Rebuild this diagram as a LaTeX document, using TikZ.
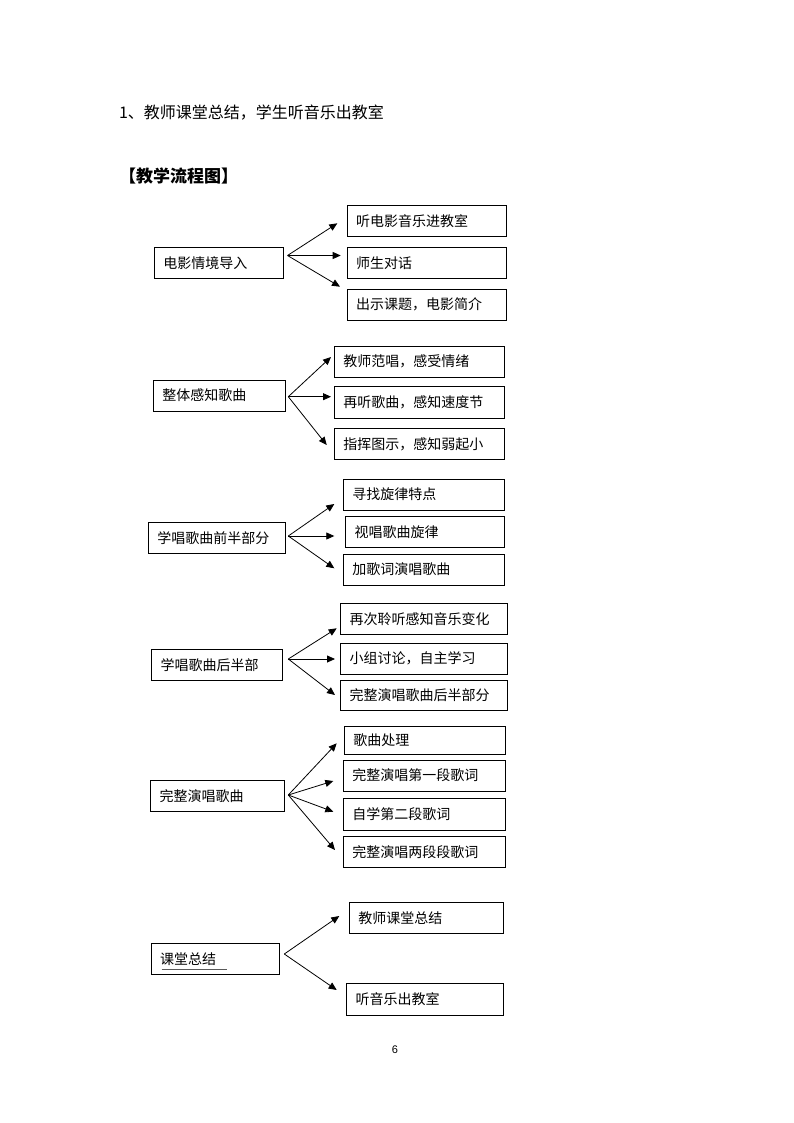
\documentclass[tikz,border=0pt]{standalone}
\usepackage{fontspec}
\newfontfamily\cjk{Noto Sans CJK SC}
\newfontfamily\pgnum{Liberation Sans}
\usetikzlibrary{arrows.meta,calc}
\tikzset{
  box/.style={draw=black, line width=0.9pt, inner xsep=9pt, inner ysep=0pt, align=left,
    font=\cjk\fontsize{14}{16}\selectfont},
  arr/.style={line width=0.8pt, -{Triangle[length=8pt,width=7pt]}},
}
\newcommand\flowbox[6]{%
  \pgfmathsetmacro\fbw{#4-#2-18}%
  \pgfmathsetmacro\fbh{#5-#3}%
  \node[box, text width=\fbw pt, minimum height=\fbh pt] (#1) at ({(#2+#4)/2},{(#3+#5)/2}) {#6};}
\begin{document}
\begin{tikzpicture}[x=1pt,y=-1pt]
\fill[white] (0,0) rectangle (794,1123);
\useasboundingbox (0,0) rectangle (794,1123);

\node[font=\cjk\fontsize{16}{18}\selectfont, inner sep=0pt] (head) at (251.5,113) {1、教师课堂总结，学生听音乐出教室};
\node[font=\cjk\bfseries\fontsize{17}{19}\selectfont, inner sep=0pt] (title) at (178.5,175.7) {【教学流程图】};

% group 1
\flowbox{a1}{154.3}{247.3}{283.3}{278.3}{电影情境导入}
\flowbox{b11}{347}{205.3}{506.7}{236}{听电影音乐进教室}
\flowbox{b12}{347}{247.3}{506.7}{278.3}{师生对话}
\flowbox{b13}{347}{289.3}{506.7}{320}{出示课题，电影简介}
\coordinate (o1) at (287.5,255.5);
\coordinate (t11) at (337.3,223.3);
\coordinate (t12) at (340.7,255.5);
\coordinate (t13) at (340,286.7);
\draw[arr] (o1) -- (t11);
\draw[arr] (o1) -- (t12);
\draw[arr] (o1) -- (t13);

% group 2
\flowbox{a2}{153.3}{380}{285}{411}{整体感知歌曲}
\flowbox{b21}{334.3}{346}{504.3}{377.3}{教师范唱，感受情绪}
\flowbox{b22}{334.3}{386.7}{504.3}{418.3}{再听歌曲，感知速度节}
\flowbox{b23}{334.3}{428.7}{504.3}{459.3}{指挥图示，感知弱起小}
\coordinate (o2) at (288.3,396.7);
\coordinate (t21) at (331,357);
\coordinate (t22) at (331,396.7);
\coordinate (t23) at (326.7,445);
\draw[arr] (o2) -- (t21);
\draw[arr] (o2) -- (t22);
\draw[arr] (o2) -- (t23);

% group 3
\flowbox{a3}{148.3}{522.7}{285.5}{553.3}{学唱歌曲前半部分}
\flowbox{b31}{343.3}{479.3}{504.3}{510}{寻找旋律特点}
\flowbox{b32}{345.7}{516.7}{504.3}{547.3}{视唱歌曲旋律}
\flowbox{b33}{343.3}{554}{504.3}{585}{加歌词演唱歌曲}
\coordinate (o3) at (288.3,536);
\coordinate (t31) at (334.3,504);
\coordinate (t32) at (334.3,536);
\coordinate (t33) at (334.3,568.3);
\draw[arr] (o3) -- (t31);
\draw[arr] (o3) -- (t32);
\draw[arr] (o3) -- (t33);

% group 4
\flowbox{a4}{151.7}{649.3}{282.3}{680}{学唱歌曲后半部}
\flowbox{b41}{340.5}{603.3}{507.5}{634.3}{再次聆听感知音乐变化}
\flowbox{b42}{340.5}{643.3}{507.5}{674}{小组讨论，自主学习}
\flowbox{b43}{340.5}{680.5}{507.5}{710.7}{完整演唱歌曲后半部分}
\coordinate (o4) at (288.3,659);
\coordinate (t41) at (336.7,628.3);
\coordinate (t42) at (335,659);
\coordinate (t43) at (335,695);
\draw[arr] (o4) -- (t41);
\draw[arr] (o4) -- (t42);
\draw[arr] (o4) -- (t43);

% group 5
\flowbox{a5}{150.7}{780.7}{284.3}{811.7}{完整演唱歌曲}
\flowbox{b51}{344.3}{726}{505.5}{754.3}{歌曲处理}
\flowbox{b52}{343.3}{760}{505.5}{791}{完整演唱第一段歌词}
\flowbox{b53}{343.3}{798.3}{505.5}{830}{自学第二段歌词}
\flowbox{b54}{343.3}{836}{505.5}{867.3}{完整演唱两段段歌词}
\coordinate (o5) at (288.3,795);
\coordinate (t51) at (336.7,743.3);
\coordinate (t52) at (333.3,781);
\coordinate (t53) at (333.3,811.7);
\coordinate (t54) at (335,850);
\draw[arr] (o5) -- (t51);
\draw[arr] (o5) -- (t52);
\draw[arr] (o5) -- (t53);
\draw[arr] (o5) -- (t54);

% group 6
\flowbox{a6}{151}{943.3}{279.3}{974.3}{课堂总结}
\draw[line width=0.8pt, black!65] (161.7,969.3) -- (227.3,969.3);
\flowbox{b61}{349.3}{902.7}{503.3}{933.3}{教师课堂总结}
\flowbox{b62}{346.7}{983.3}{503.3}{1015}{听音乐出教室}
\coordinate (o6) at (284.3,954);
\coordinate (t61) at (339.3,916);
\coordinate (t62) at (336.7,990);
\draw[arr] (o6) -- (t61);
\draw[arr] (o6) -- (t62);

\node[font=\pgnum\fontsize{11}{13}\selectfont, inner sep=0pt] (pg) at (395,1050) {6};
\end{tikzpicture}
\end{document}
